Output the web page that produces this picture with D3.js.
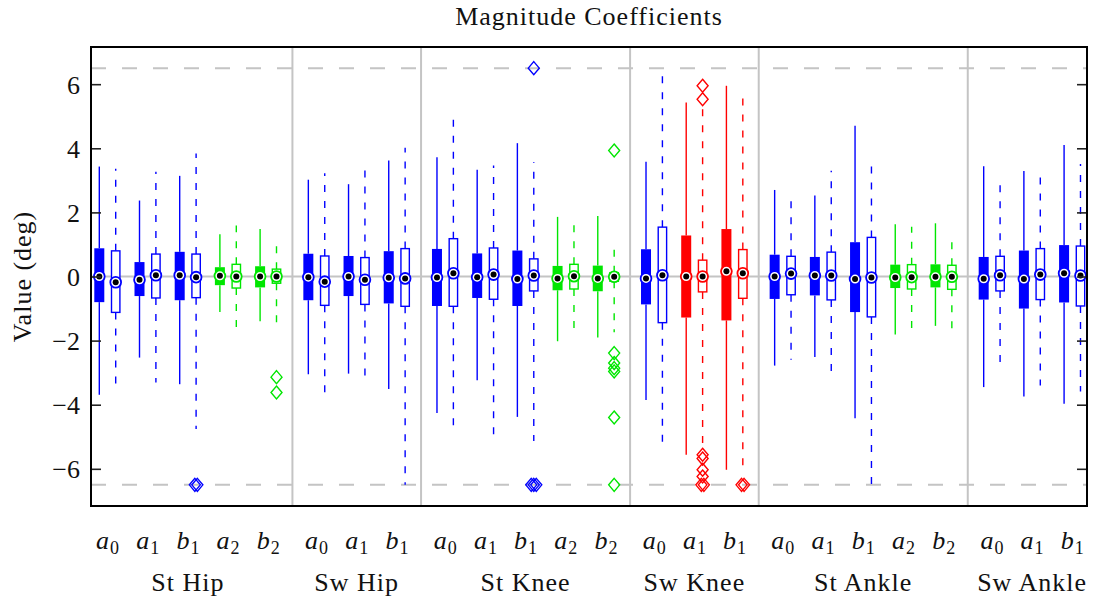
<!DOCTYPE html>
<html>
<head>
<meta charset="utf-8">
<script src="https://cdn.jsdelivr.net/npm/d3@7"></script>
<style>
  body { margin: 0; background: #fff; }
  svg text { font-family: "Liberation Serif", "DejaVu Serif", "Noto Serif", "Tinos", "Times New Roman", "Nimbus Roman", "FreeSerif", Georgia, serif !important; fill: #111; }
</style>
</head>
<body>
<svg id="chart" width="1093" height="606"></svg>
<script>
// Joint groups and the Fourier coefficients estimated for each one
const groups = ["St Hip", "Sw Hip", "St Knee", "Sw Knee", "St Ankle", "Sw Ankle"];
const groupCoefs = [
  ["a0", "a1", "b1", "a2", "b2"],
  ["a0", "a1", "b1"],
  ["a0", "a1", "b1", "a2", "b2"],
  ["a0", "a1", "b1"],
  ["a0", "a1", "b1", "a2", "b2"],
  ["a0", "a1", "b1"]
];

// Each row: [lower whisker, Q1, median, Q3, upper whisker] in degrees
const solidStats = [
  [-3.69, -0.80,  0.00, 0.88, 3.43],
  [-2.53, -0.61, -0.10, 0.45, 2.37],
  [-3.36, -0.74,  0.04, 0.77, 3.14],
  [-1.11, -0.27,  0.02, 0.29, 1.32],
  [-1.40, -0.34,  0.00, 0.32, 1.48],
  [-3.05, -0.74, -0.02, 0.71, 3.02],
  [-3.03, -0.61,  0.00, 0.64, 2.88],
  [-3.51, -0.84, -0.04, 0.79, 3.62],
  [-4.26, -0.92, -0.03, 0.86, 3.72],
  [-3.24, -0.67, -0.02, 0.72, 3.33],
  [-4.38, -0.92, -0.08, 0.81, 4.16],
  [-2.02, -0.43, -0.06, 0.33, 1.86],
  [-1.90, -0.46, -0.06, 0.34, 1.89],
  [-3.85, -0.87, -0.06, 0.85, 3.58],
  [-5.56, -1.28,  0.00, 1.28, 5.43],
  [-6.03, -1.37,  0.16, 1.48, 5.95],
  [-2.78, -0.70,  0.00, 0.68, 2.70],
  [-2.51, -0.59,  0.03, 0.61, 2.53],
  [-4.42, -1.11, -0.08, 1.07, 4.70],
  [-1.81, -0.36, -0.03, 0.37, 1.63],
  [-1.54, -0.34, -0.01, 0.38, 1.66],
  [-3.45, -0.72, -0.07, 0.61, 3.44],
  [-3.74, -1.00, -0.08, 0.81, 3.29],
  [-3.97, -0.81,  0.10, 0.98, 4.10]
];
const openStats = [
  [-3.62, -1.12, -0.18, 0.80, 3.36],
  [-3.31, -0.67,  0.04, 0.70, 3.27],
  [-4.76, -0.66, -0.02, 0.70, 3.84],
  [-1.63, -0.36,  0.00, 0.38, 1.59],
  [-1.58, -0.21,  0.00, 0.23, 1.09],
  [-3.62, -0.90, -0.16, 0.64, 3.22],
  [-3.36, -0.87, -0.10, 0.59, 3.56],
  [-6.50, -0.93, -0.06, 0.87, 4.02],
  [-4.87, -0.93,  0.10, 1.18, 4.91],
  [-4.95, -0.71,  0.06, 0.89, 3.46],
  [-5.13, -0.45,  0.03, 0.55, 3.57],
  [-1.70, -0.39,  0.01, 0.38, 1.80],
  [-1.74, -0.15, -0.01, 0.12, 0.99],
  [-5.30, -1.44,  0.04, 1.54, 6.45],
  [-5.35, -0.48,  0.00, 0.51, 5.30],
  [-5.93, -0.68,  0.10, 0.84, 5.76],
  [-2.60, -0.57,  0.09, 0.63, 2.62],
  [-3.00, -0.73,  0.03, 0.76, 3.30],
  [-6.50, -1.26, -0.03, 1.22, 3.61],
  [-1.71, -0.39, -0.02, 0.37, 1.55],
  [-1.72, -0.40, -0.01, 0.35, 1.17],
  [-2.86, -0.45,  0.04, 0.63, 3.10],
  [-3.40, -0.72,  0.06, 0.87, 3.34],
  [-3.59, -0.92,  0.03, 0.95, 3.51]
];

// Outlying samples (values past ±6.5 are shown on the limit lines)
const solidOutliers = [
  [], [], [], [], [],
  [], [], [],
  [], [], [], [], [],
  [], [], [],
  [], [], [], [], [],
  [], [], []
];
const openOutliers = [
  [], [], [-6.5, -6.5], [], [-3.14, -3.62],
  [], [], [],
  [], [], [6.5, -6.5, -6.5, -6.5], [], [3.93, -2.39, -2.70, -2.86, -2.96, -4.40, -6.5],
  [], [5.95, 5.53, -5.56, -5.68, -6.03, -6.24, -6.5, -6.5], [-6.5, -6.5],
  [], [], [], [], [],
  [], [], []
];

const yTicks = [-6, -4, -2, 0, 2, 4, 6];
const clipLimit = 6.5;

// ---- layout ----
const plot = { left: 91, right: 1087, top: 47, bottom: 506 };
const groupGap = 0.2;      // extra slot units between joint groups
const pairOffset = 0.408;  // open box sits this far right of the solid box
const COLORS = { blue: "#0000ff", green: "#00e600", red: "#ff0000" };

const svg = d3.select("#chart");

// flatten coefficient slots
const slots = [];
groups.forEach((g, gi) => {
  groupCoefs[gi].forEach(c => {
    const i = slots.length;
    slots.push({ group: g, gi, coef: c, u: i + groupGap * gi });
  });
});

function colorOf(s) {
  if (s.coef === "a2" || s.coef === "b2") return COLORS.green;
  if (s.group === "Sw Knee" && s.coef !== "a0") return COLORS.red;
  return COLORS.blue;
}

const x = d3.scaleLinear().domain([-0.2065, 24.57]).range([plot.left, plot.right]);
const y = d3.scaleLinear().domain([-7.16, 7.16]).range([plot.bottom, plot.top]);

const grey = "#c4c4c4";
const bg = svg.append("g");

// zero line
bg.append("line")
  .attr("x1", plot.left).attr("x2", plot.right)
  .attr("y1", y(0)).attr("y2", y(0))
  .attr("stroke", grey).attr("stroke-width", 2);

// limit lines
[clipLimit, -clipLimit].forEach(v => {
  bg.append("line")
    .attr("x1", plot.left).attr("x2", plot.right)
    .attr("y1", y(v)).attr("y2", y(v))
    .attr("stroke", grey).attr("stroke-width", 2)
    .attr("stroke-dasharray", "15,16");
});

// group separators
for (let gi = 0; gi < groups.length - 1; gi++) {
  const last = slots.filter(s => s.gi === gi).pop();
  const next = slots.find(s => s.gi === gi + 1);
  const xm = x((last.u + pairOffset + next.u) / 2);
  bg.append("line")
    .attr("x1", xm).attr("x2", xm)
    .attr("y1", plot.top).attr("y2", plot.bottom)
    .attr("stroke", grey).attr("stroke-width", 2);
}

// ---- boxes ----
const marks = svg.append("g");
const boxW = 10;

function drawBox(cx, st, outliers, col, open) {
  const [lo, q1, med, q3, hi] = st;
  const g = marks.append("g");
  const wh = (a, b) => g.append("line")
    .attr("x1", cx).attr("x2", cx)
    .attr("y1", y(a)).attr("y2", y(b))
    .attr("stroke", col).attr("stroke-width", 1.4)
    .attr("stroke-dasharray", open ? "7,9" : null);
  wh(q3, hi);
  wh(q1, lo);
  if (open) {
    g.append("rect")
      .attr("x", cx - 4.2).attr("width", 8.4)
      .attr("y", y(q3)).attr("height", y(q1) - y(q3))
      .attr("fill", "#fff").attr("stroke", col).attr("stroke-width", 1.4);
  } else {
    g.append("rect")
      .attr("x", cx - boxW / 2).attr("width", boxW)
      .attr("y", y(q3)).attr("height", y(q1) - y(q3))
      .attr("fill", col);
  }
  g.append("circle").attr("cx", cx).attr("cy", y(med)).attr("r", 5.4)
    .attr("fill", "#fff").attr("stroke", col).attr("stroke-width", 1.8);
  g.append("circle").attr("cx", cx).attr("cy", y(med)).attr("r", 3)
    .attr("fill", "#000");

  // outliers as open diamonds; repeated values are nudged sideways
  const seen = d3.rollup(outliers, v => v.length, d => d);
  const used = new Map();
  outliers.forEach(v => {
    const n = seen.get(v), k = used.get(v) || 0;
    used.set(v, k + 1);
    const dx = (k - (n - 1) / 2) * 2.5;
    const vy = y(Math.max(-clipLimit, Math.min(clipLimit, v)));
    const px = cx + dx;
    g.append("path")
      .attr("d", `M${px},${vy - 6.5}L${px + 5.5},${vy}L${px},${vy + 6.5}L${px - 5.5},${vy}Z`)
      .attr("fill", "none").attr("stroke", col).attr("stroke-width", 1.4);
  });
}

slots.forEach((s, i) => {
  const col = colorOf(s);
  drawBox(x(s.u), solidStats[i], solidOutliers[i], col, false);
  drawBox(x(s.u + pairOffset), openStats[i], openOutliers[i], col, true);
});

// ---- axes and frame ----
const fmt = d3.format("d");
const yAxis = d3.axisLeft(y).tickValues(yTicks).tickFormat(fmt)
  .tickSizeInner(-10).tickSizeOuter(0).tickPadding(11);
const ga = svg.append("g").attr("transform", `translate(${plot.left},0)`).call(yAxis)
  .attr("font-size", 26);
ga.select(".domain").remove();
ga.selectAll(".tick line").attr("stroke", "#222").attr("stroke-width", 1.6);
ga.selectAll(".tick text").attr("fill", "#111").attr("dy", "0.34em");

const yAxisR = d3.axisRight(y).tickValues(yTicks).tickFormat("")
  .tickSizeInner(-10).tickSizeOuter(0);
const gr = svg.append("g").attr("transform", `translate(${plot.right},0)`).call(yAxisR);
gr.select(".domain").remove();
gr.selectAll(".tick line").attr("stroke", "#222").attr("stroke-width", 1.6);

svg.append("rect")
  .attr("x", plot.left).attr("y", plot.top)
  .attr("width", plot.right - plot.left).attr("height", plot.bottom - plot.top)
  .attr("fill", "none").attr("stroke", "#000").attr("stroke-width", 2);

// ---- text ----
const label = () => svg.append("text").attr("font-size", 26);

label()
  .attr("x", (plot.left + plot.right) / 2).attr("y", 25)
  .attr("text-anchor", "middle")
  .attr("letter-spacing", 1)
  .text("Magnitude Coefficients");

label()
  .attr("transform", `translate(31,${y(0)}) rotate(-90)`)
  .attr("text-anchor", "middle")
  .attr("letter-spacing", 1)
  .text("Value (deg)");

// coefficient labels (italic symbol with subscript index)
slots.forEach(s => {
  const t = label()
    .attr("x", x(s.u + pairOffset / 2)).attr("y", 549)
    .attr("text-anchor", "middle");
  t.append("tspan").attr("font-style", "italic").text(s.coef[0]);
  t.append("tspan").attr("font-size", 18).attr("dy", 5).attr("dx", 1).text(s.coef[1]);
});

// group labels
groups.forEach((g, gi) => {
  const gs = slots.filter(s => s.gi === gi);
  const cx = (x(gs[0].u) + x(gs[gs.length - 1].u + pairOffset)) / 2;
  label()
    .attr("x", cx).attr("y", 591)
    .attr("text-anchor", "middle")
    .attr("letter-spacing", 1)
    .text(g);
});
</script>
</body>
</html>
